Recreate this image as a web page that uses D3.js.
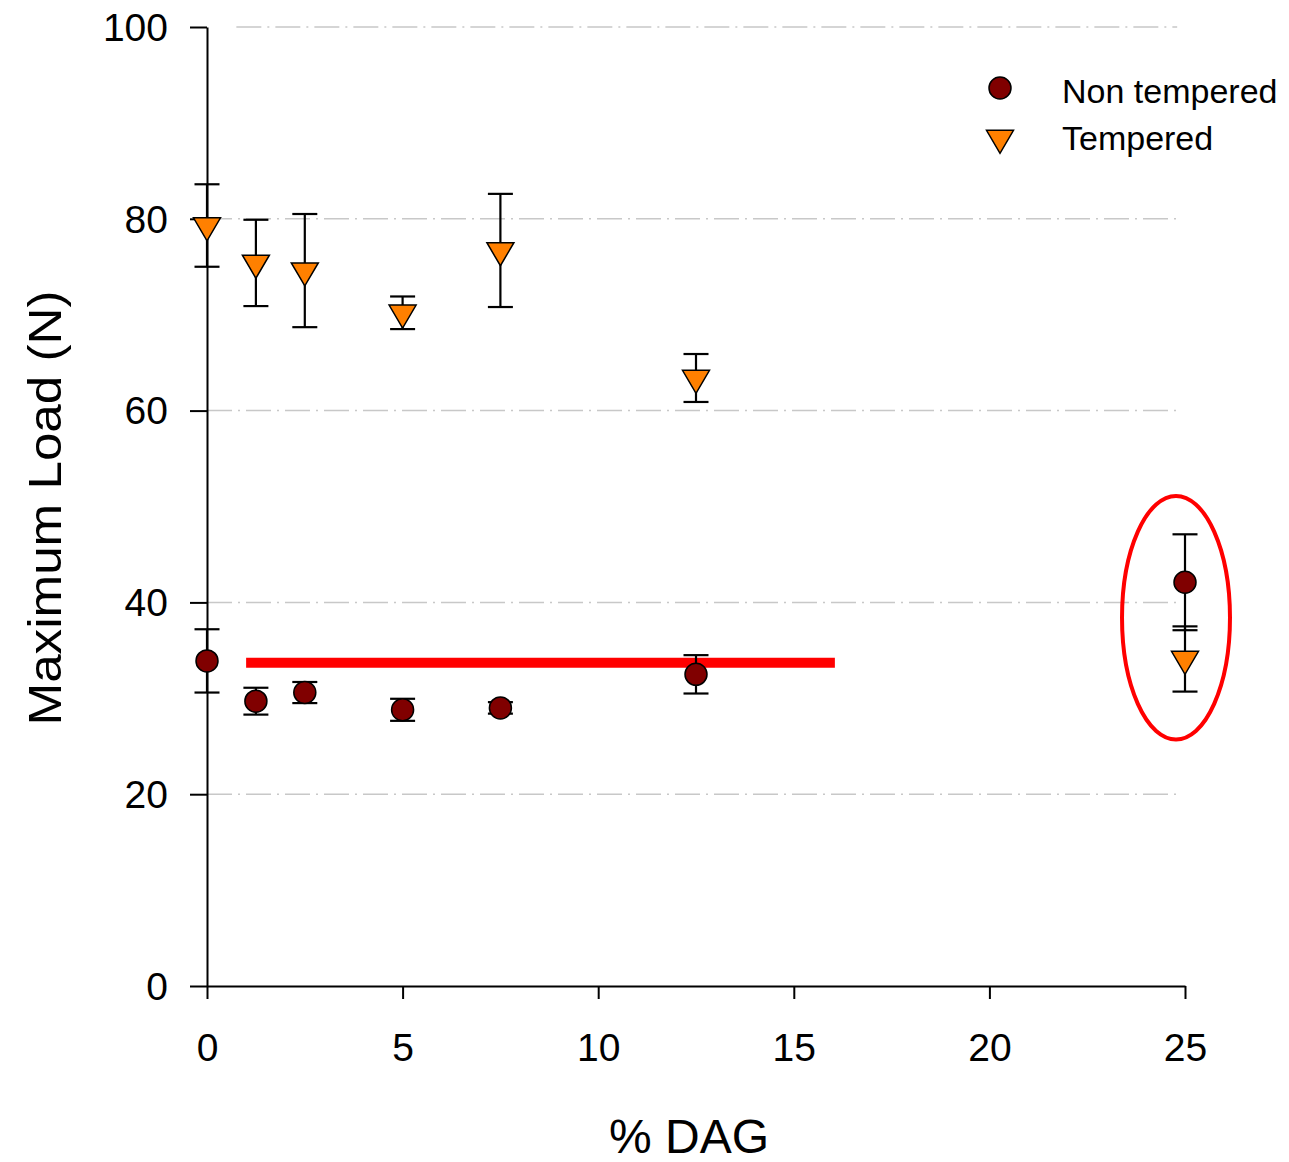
<!DOCTYPE html>
<html>
<head>
<meta charset="utf-8">
<script src="https://cdn.jsdelivr.net/npm/d3@7"></script>
<style>
  body { margin: 0; background: #fff; }
  svg { display: block; font-family: 'Liberation Sans', Arial, sans-serif; }
</style>
</head>
<body>
<div id="chart"></div>
<script>
// % DAG levels
const dag = [0, 1.25, 2.5, 5, 7.5, 12.5, 25];
// Non tempered: mean and error
const nonTempered = [33.9, 29.7, 30.6, 28.8, 29.0, 32.5, 42.1];
const nonTemperedErr = [3.3, 1.4, 1.1, 1.15, 0.6, 2.0, 5.0];
// Tempered: mean and error
const tempered = [79.3, 75.4, 74.6, 70.2, 76.7, 63.4, 34.1];
const temperedErr = [4.3, 4.5, 5.9, 1.7, 5.9, 2.5, 3.4];

const xTicks = [0, 5, 10, 15, 20, 25];
const yTicks = [0, 20, 40, 60, 80, 100];

// annotations drawn in data units
const refLine = [{ x: 1.0, y: 33.7 }, { x: 16.05, y: 33.7 }];
const highlight = { cx: 24.77, cy: 38.4, rx: 1.38, ry: 12.7 };

const width = 1289;
const height = 1162;

const x = d3.scaleLinear().domain([0, 25]).range([207, 1185]);
const y = d3.scaleLinear().domain([0, 100]).range([986, 27]);

const svg = d3.select('#chart')
  .append('svg')
  .attr('width', width)
  .attr('height', height);

// dashed grid
svg.append('g')
  .selectAll('line')
  .data(yTicks.filter(d => d > 0))
  .enter()
  .append('line')
  .attr('x1', d => d === 100 ? x(0.75) : x(0))
  .attr('x2', x(24.8))
  .attr('y1', d => y(d))
  .attr('y2', d => y(d))
  .attr('stroke', '#c8c8c8')
  .attr('stroke-width', 1.5)
  .attr('stroke-dasharray', '25,6,2,6');

// axes
const xAxis = svg.append('g')
  .attr('transform', `translate(0,${y(0)})`)
  .call(d3.axisBottom(x).tickValues(xTicks).tickSize(13).tickPadding(34).tickSizeOuter(0));
const yAxis = svg.append('g')
  .attr('transform', `translate(${x(0)},0)`)
  .call(d3.axisLeft(y).tickValues(yTicks).tickSize(17).tickPadding(22).tickSizeOuter(0));

[xAxis, yAxis].forEach(a => {
  a.select('.domain').attr('stroke', '#000').attr('stroke-width', 2);
  a.selectAll('.tick line').attr('stroke', '#000').attr('stroke-width', 2);
  a.selectAll('.tick text')
    .attr('fill', '#000')
    .style('font-size', '39px')
    .style('font-family', "'Liberation Sans', Arial, sans-serif");
});
yAxis.selectAll('.tick text').attr('dy', '0.34em');
xAxis.selectAll('.tick text').attr('dy', '0.71em');

// axis titles
svg.append('text')
  .attr('x', 689)
  .attr('y', 1153)
  .attr('text-anchor', 'middle')
  .style('font-size', '48px')
  .text('% DAG');

svg.append('text')
  .attr('transform', 'translate(61,508) rotate(-90)')
  .attr('text-anchor', 'middle')
  .attr('textLength', 435)
  .attr('lengthAdjust', 'spacingAndGlyphs')
  .style('font-size', '46px')
  .text('Maximum Load (N)');

// red reference line
svg.append('line')
  .attr('x1', x(refLine[0].x))
  .attr('x2', x(refLine[1].x))
  .attr('y1', y(refLine[0].y))
  .attr('y2', y(refLine[1].y))
  .attr('stroke', '#ff0000')
  .attr('stroke-width', 10);

// error bars
function errorBars(values, errs) {
  const g = svg.append('g').attr('stroke', '#000').attr('stroke-width', 2.2);
  values.forEach((v, i) => {
    const cx = x(dag[i]);
    const top = y(v + errs[i]);
    const bot = y(v - errs[i]);
    g.append('line').attr('x1', cx).attr('x2', cx).attr('y1', top).attr('y2', bot);
    g.append('line').attr('x1', cx - 12.5).attr('x2', cx + 12.5).attr('y1', top).attr('y2', top);
    g.append('line').attr('x1', cx - 12.5).attr('x2', cx + 12.5).attr('y1', bot).attr('y2', bot);
  });
}
errorBars(nonTempered, nonTemperedErr);
errorBars(tempered, temperedErr);

const triPath = 'M-13.5,-7.7L13.5,-7.7L0,15.3Z';

// markers
svg.append('g')
  .selectAll('circle')
  .data(nonTempered)
  .enter()
  .append('circle')
  .attr('cx', (d, i) => x(dag[i]))
  .attr('cy', d => y(d))
  .attr('r', 11)
  .attr('fill', '#800000')
  .attr('stroke', '#000')
  .attr('stroke-width', 1.5);

svg.append('g')
  .selectAll('path')
  .data(tempered)
  .enter()
  .append('path')
  .attr('d', triPath)
  .attr('transform', (d, i) => `translate(${x(dag[i])},${y(d)})`)
  .attr('fill', '#ff8000')
  .attr('stroke', '#000')
  .attr('stroke-width', 1.5);

// highlight ellipse
svg.append('ellipse')
  .attr('cx', x(highlight.cx))
  .attr('cy', y(highlight.cy))
  .attr('rx', x(highlight.rx) - x(0))
  .attr('ry', y(0) - y(highlight.ry))
  .attr('fill', 'none')
  .attr('stroke', '#ff0000')
  .attr('stroke-width', 4);

// legend
const legend = svg.append('g');
legend.append('circle')
  .attr('cx', 1000).attr('cy', 88).attr('r', 11)
  .attr('fill', '#800000').attr('stroke', '#000').attr('stroke-width', 1.5);
legend.append('path')
  .attr('d', triPath)
  .attr('transform', 'translate(1000,138)')
  .attr('fill', '#ff8000').attr('stroke', '#000').attr('stroke-width', 1.5);
legend.append('text')
  .attr('x', 1062).attr('y', 103)
  .style('font-size', '34px')
  .text('Non tempered');
legend.append('text')
  .attr('x', 1062).attr('y', 150)
  .style('font-size', '34px')
  .text('Tempered');
</script>
</body>
</html>
